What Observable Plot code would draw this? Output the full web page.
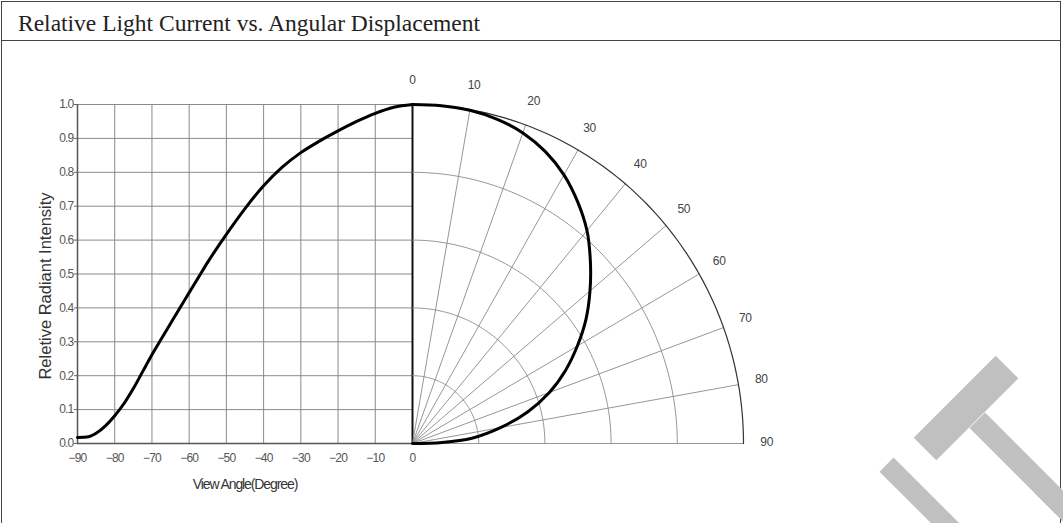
<!DOCTYPE html>
<html>
<head>
<meta charset="utf-8">
<script src="https://cdn.jsdelivr.net/npm/d3@7"></script>
<script src="https://cdn.jsdelivr.net/npm/@observablehq/plot@0.6"></script>
<style>
html, body { margin: 0; padding: 0; background: #fff; }
#wrap { position: relative; width: 1063px; height: 523px; overflow: hidden; background: #fff; }
#frame { position: absolute; left: 1px; top: 1px; width: 1060px; height: 560px; border: 1.5px solid #444; box-sizing: border-box; }
#titlebar { position: absolute; left: 1px; top: 1px; width: 1060px; height: 40px; border-bottom: 1.5px solid #444; box-sizing: border-box; }
#title { position: absolute; left: 18px; top: 12px; font-family: "Liberation Serif", "Times New Roman", serif; font-size: 23.5px; line-height: 23.5px; color: #222; white-space: nowrap; }
.layer { position: absolute; left: 0; top: 0; }
.wm { position: absolute; background: #c0c0c0; }
</style>
</head>
<body>
<div id="wrap">
  <div id="frame"></div>
  <div id="titlebar"></div>
  <div id="title"></div>
  <div id="charts"></div>
  <div class="wm" style="left:868.7px; top:496.9px; width:120px; height:20px; transform: rotate(45deg);"></div>
  <div class="wm" style="left:948.2px; top:479.7px; width:200px; height:22px; transform: rotate(45deg);"></div>
  <div class="wm" style="left:907.8px; top:392.3px; width:116px; height:32px; transform: rotate(-45deg);"></div>
</div>
<script>
// ---------- data ----------
const titleText = "Relative Light Current vs. Angular Displacement";
const yLabelText = "Reletive Radiant Intensity";
const xLabelText = "View Angle(Degree)";

const xTicks = [-90, -80, -70, -60, -50, -40, -30, -20, -10, 0];
const yTicks = [0, 0.1, 0.2, 0.3, 0.4, 0.5, 0.6, 0.7, 0.8, 0.9, 1.0];

// Cartesian curve (left)
const viewAngles = [-90, -87, -85, -82.5, -80, -77.5, -75, -72.5, -70, -67.5, -65, -62.5, -60, -57.5, -55, -50, -45, -40, -35, -30, -25, -20, -15, -10, -5, 0];
const intensity  = [0.018, 0.02, 0.03, 0.052, 0.082, 0.118, 0.162, 0.212, 0.262, 0.308, 0.354, 0.40, 0.445, 0.49, 0.535, 0.617, 0.693, 0.76, 0.815, 0.858, 0.892, 0.922, 0.95, 0.974, 0.992, 1.0];

// Polar curve (right)
const polarAngles = [0, 5, 10, 15, 20, 25, 30, 35, 40, 45, 50, 55, 60, 65, 70, 75, 80, 85, 88, 90];
const polarValues = [1.0, 1.0, 0.998, 0.99, 0.975, 0.95, 0.915, 0.87, 0.82, 0.76, 0.70, 0.64, 0.575, 0.51, 0.44, 0.36, 0.27, 0.18, 0.09, 0];

const ringRadii = [0.2, 0.4, 0.6, 0.8, 1.0];
const spokeAngles = [10, 20, 30, 40, 50, 60, 70, 80, 90];
const polarLabels = [0, 10, 20, 30, 40, 50, 60, 70, 80, 90];

// ---------- helpers ----------
const W = 1063, H = 523;
const rad = a => a * Math.PI / 180;
const toXY = (r, a) => ({x: r * Math.sin(rad(a)), y: r * Math.cos(rad(a))});

document.getElementById("title").textContent = titleText;

const leftCurve = viewAngles.map((a, i) => ({a, v: intensity[i]}));

// ---------- Cartesian chart ----------
const chartA = Plot.plot({
  width: W, height: H,
  marginLeft: 77, marginRight: W - 412, marginTop: 104, marginBottom: H - 443,
  x: {domain: [-90, 0]},
  y: {domain: [0, 1]},
  style: {background: "transparent", fontFamily: "'Liberation Sans', Arial, sans-serif", color: "#555", overflow: "visible"},
  marks: [
    Plot.gridX(xTicks, {stroke: "#8a8a8a", strokeOpacity: 1, strokeWidth: 1}),
    Plot.gridY(yTicks, {stroke: "#8a8a8a", strokeOpacity: 1, strokeWidth: 1}),
    Plot.ruleY([0], {stroke: "#555", strokeWidth: 1.5}),
    Plot.ruleX([-90], {stroke: "#555", strokeWidth: 1.5}),
    Plot.ruleX([0], {y1: 0, y2: 1, stroke: "#111", strokeWidth: 2}),
    Plot.axisY({ticks: yTicks, tickFormat: d => d.toFixed(1), tickSize: 3, tickPadding: 1, fontSize: 12, label: null, stroke: "#666", fill: "#555"}),
    Plot.axisX({ticks: xTicks, tickSize: 0, tickPadding: 10, fontSize: 12, label: null, fill: "#555"}),
    Plot.text([xLabelText], {x: -45, y: 0, dy: 45, text: d => d, lineAnchor: "bottom", fontSize: 14, fill: "#333"}),
    Plot.text([yLabelText], {x: -90, y: 0.5, dx: -27, dy: 12, text: d => d, rotate: -90, lineAnchor: "bottom", fontSize: 16.5, fill: "#333"}),
    Plot.line(leftCurve, {x: "a", y: "v", curve: "monotone-x", stroke: "#000", strokeWidth: 3})
  ]
});

// ---------- Polar chart ----------
const ringPts = [];
for (const r of ringRadii) for (let a = 0; a <= 90; a += 1) ringPts.push({r, ...toXY(r, a)});
const spokePts = [];
for (const a of spokeAngles) { spokePts.push({a, x: 0, y: 0}); spokePts.push({a, ...toXY(1, a)}); }
const polarCurve = polarAngles.map((a, i) => toXY(polarValues[i], a));
const labelPts = polarLabels.map(a => ({a, ...toXY(1.07, a)}));

const chartB = Plot.plot({
  width: W, height: H,
  marginLeft: 412, marginRight: W - 743, marginTop: 104, marginBottom: H - 443,
  x: {domain: [0, 1], axis: null},
  y: {domain: [0, 1], axis: null},
  style: {background: "transparent", fontFamily: "'Liberation Sans', Arial, sans-serif", color: "#444", overflow: "visible"},
  marks: [
    Plot.line(spokePts, {x: "x", y: "y", z: "a", stroke: "#8a8a8a", strokeWidth: 0.9}),
    Plot.line(ringPts.filter(d => d.r < 1), {x: "x", y: "y", z: "r", stroke: "#8a8a8a", strokeWidth: 0.9}),
    Plot.line(ringPts.filter(d => d.r === 1), {x: "x", y: "y", stroke: "#333", strokeWidth: 1.2}),
    Plot.line(polarCurve, {x: "x", y: "y", curve: "catmull-rom", stroke: "#000", strokeWidth: 3}),
    Plot.text(labelPts, {x: "x", y: "y", dy: -1, text: d => String(d.a), fontSize: 12, fill: "#444"})
  ]
});

chartA.classList.add("layer");
chartB.classList.add("layer");
const host = document.getElementById("charts");
host.appendChild(chartA);
host.appendChild(chartB);

// condensed look of the small labels
d3.select(chartA).selectAll("g[aria-label='x-axis tick label'] text, g[aria-label='y-axis tick label'] text").attr("letter-spacing", "-0.8");
d3.select(chartA).selectAll("g[aria-label='text'] text").filter(function() { return this.textContent === xLabelText; }).attr("letter-spacing", "-1.1");
d3.select(chartB).selectAll("g[aria-label='text'] text").attr("letter-spacing", "-0.3");
</script>
</body>
</html>
